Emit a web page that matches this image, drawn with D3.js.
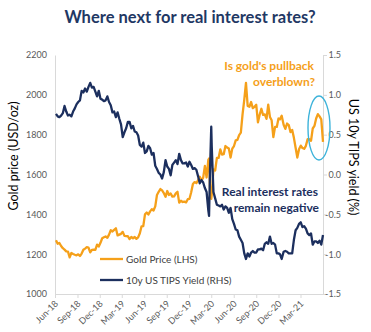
<!DOCTYPE html>
<html><head><meta charset="utf-8">
<script src="https://cdn.jsdelivr.net/npm/d3@7"></script>
<style>
body{margin:0;background:#fff}
svg{display:block}
text{font-family:Lato,"Open Sans",sans-serif}
</style>
</head><body>
<svg id="chart" width="371" height="332"></svg>
<script>
// ---- data ----
const dates = [
"2018-06-22","2018-06-29","2018-07-06","2018-07-13","2018-07-20","2018-07-27","2018-08-03","2018-08-10","2018-08-17","2018-08-24","2018-08-31","2018-09-07","2018-09-14","2018-09-21","2018-09-28","2018-10-05","2018-10-12","2018-10-19","2018-10-26","2018-11-02","2018-11-09","2018-11-16","2018-11-23","2018-11-30","2018-12-07","2018-12-14","2018-12-21","2018-12-28",
"2019-01-04","2019-01-11","2019-01-18","2019-01-25","2019-02-01","2019-02-08","2019-02-15","2019-02-22","2019-03-01","2019-03-08","2019-03-15","2019-03-22","2019-03-29","2019-04-05","2019-04-12","2019-04-19","2019-04-26","2019-05-03","2019-05-10","2019-05-17","2019-05-24","2019-05-31","2019-06-07","2019-06-14","2019-06-21","2019-06-28","2019-07-05","2019-07-12","2019-07-19","2019-07-26","2019-08-02","2019-08-09","2019-08-16","2019-08-23","2019-08-30","2019-09-06","2019-09-13","2019-09-20","2019-09-27","2019-10-04","2019-10-11","2019-10-18","2019-10-25","2019-11-01","2019-11-08","2019-11-15","2019-11-22","2019-11-29","2019-12-06","2019-12-13","2019-12-20","2019-12-27",
"2020-01-03","2020-01-10","2020-01-17","2020-01-24","2020-01-31","2020-02-07","2020-02-14","2020-02-21","2020-02-28","2020-03-06","2020-03-09","2020-03-13","2020-03-18","2020-03-20","2020-03-27","2020-04-03","2020-04-10","2020-04-17","2020-04-24","2020-05-01","2020-05-08","2020-05-15","2020-05-22","2020-05-29","2020-06-05","2020-06-12","2020-06-19","2020-06-26","2020-07-03","2020-07-10","2020-07-17","2020-07-24","2020-07-31","2020-08-07","2020-08-14","2020-08-21","2020-08-28","2020-09-04","2020-09-11","2020-09-18","2020-09-25","2020-10-02","2020-10-09","2020-10-16","2020-10-23","2020-10-30","2020-11-06","2020-11-13","2020-11-20","2020-11-27","2020-12-04","2020-12-11","2020-12-18","2020-12-24","2020-12-31",
"2021-01-08","2021-01-15","2021-01-22","2021-01-29","2021-02-05","2021-02-12","2021-02-19","2021-02-26","2021-03-05","2021-03-12","2021-03-19","2021-03-26","2021-04-02","2021-04-09","2021-04-16","2021-04-23","2021-04-30","2021-05-07","2021-05-14","2021-05-21","2021-05-28","2021-06-04","2021-06-11","2021-06-18"
];
const goldPrice = [
1270,1252,1256,1241,1230,1223,1214,1213,1184,1206,1201,1197,1194,1199,1191,1203,1222,1228,1235,1233,1209,1222,1223,1222,1248,1238,1257,1280,
1285,1289,1282,1298,1320,1314,1322,1330,1294,1298,1302,1312,1292,1291,1290,1276,1286,1280,1286,1277,1284,1305,1340,1341,1400,1409,1399,1415,1426,1419,1440,1497,1513,1527,1520,1507,1488,1517,1497,1505,1489,1490,1505,1513,1459,1468,1462,1464,1460,1476,1478,1511,
1552,1562,1557,1571,1589,1570,1584,1643,1585,1674,1680,1530,1478,1498,1625,1620,1683,1683,1726,1700,1702,1743,1735,1730,1685,1730,1743,1771,1774,1798,1810,1902,1975,2060,1944,1940,1964,1933,1940,1950,1862,1900,1930,1899,1902,1879,1951,1889,1872,1788,1839,1839,1881,1877,1895,
1850,1829,1856,1848,1813,1824,1784,1734,1685,1727,1745,1733,1729,1744,1777,1777,1769,1831,1844,1881,1903,1892,1877,1764
];
const tipsYield = [
0.76,0.73,0.72,0.74,0.77,0.86,0.79,0.74,0.75,0.73,0.79,0.83,0.88,0.91,0.93,1.05,1.03,1.08,1.04,1.10,1.15,1.09,1.10,1.04,0.98,1.05,0.95,0.94,
0.92,0.93,0.98,0.91,0.87,0.78,0.79,0.72,0.78,0.70,0.63,0.47,0.53,0.58,0.66,0.66,0.58,0.61,0.54,0.53,0.49,0.37,0.35,0.40,0.27,0.29,0.36,0.33,0.25,0.27,0.11,0.07,0.02,0.00,-0.05,0.03,0.18,0.10,0.07,-0.01,0.12,0.15,0.18,0.13,0.26,0.18,0.14,0.14,0.15,0.10,0.16,0.12,
0.07,0.08,0.06,-0.02,-0.11,-0.07,-0.10,-0.17,-0.22,-0.45,-0.52,0.05,0.60,0.35,-0.22,-0.30,-0.38,-0.39,-0.40,-0.38,-0.44,-0.40,-0.42,-0.48,-0.42,-0.56,-0.62,-0.69,-0.70,-0.78,-0.82,-0.86,-0.99,-1.06,-0.99,-1.03,-0.98,-0.96,-0.98,-0.98,-0.94,-0.94,-0.93,-0.95,-0.87,-0.85,-0.87,-0.78,-0.87,-0.86,-0.88,-0.99,-0.99,-1.00,-1.06,
-0.97,-0.96,-0.97,-0.99,-0.99,-0.99,-0.82,-0.70,-0.67,-0.62,-0.60,-0.66,-0.65,-0.68,-0.74,-0.76,-0.74,-0.88,-0.84,-0.84,-0.86,-0.83,-0.88,-0.76
];
const xTickLabels = ["Jun-18","Sep-18","Dec-18","Mar-19","Jun-19","Sep-19","Dec-19","Mar-20","Jun-20","Sep-20","Dec-20","Mar-21"];
const goldTicks = [1000,1200,1400,1600,1800,2000,2200];
const yieldTicks = [-1.5,-1.0,-0.5,0.0,0.5,1.0,1.5];
const axisStart = "2018-06-18", axisEnd = "2021-06-18";

// ---- chart ----
const parse = d3.timeParse("%Y-%m-%d");
const GOLD = "#F5A01A", NAVY = "#1C2F5E", AXIS = "#D9D9D9", LBL = "#595959";
const svg = d3.select("#chart");
const m = {left:55, right:323, top:55, bottom:294};

const x = d3.scaleTime().domain([parse(axisStart), parse(axisEnd)]).range([m.left, m.right]);
const yL = d3.scaleLinear().domain([1000,2200]).range([m.bottom, m.top]);
const yR = d3.scaleLinear().domain([-1.5,1.5]).range([m.bottom, m.top]);

const gold = dates.map((d,i)=>({date:parse(d), v:goldPrice[i]}));
const tips = dates.map((d,i)=>({date:parse(d), v:tipsYield[i]}));

// title
svg.append("text").attr("x",190).attr("y",23).attr("text-anchor","middle")
  .attr("font-size",16.5).attr("font-weight",700).attr("fill","#1F3864")
  .text("Where next for real interest rates?");

// left axis
const gL = svg.append("g").attr("transform",`translate(${m.left},0)`)
  .call(d3.axisLeft(yL).tickValues(goldTicks).tickSize(0).tickPadding(8).tickFormat(d3.format("d")));
gL.select(".domain").attr("stroke",AXIS);
gL.selectAll("text").attr("font-size",9).attr("fill",LBL).attr("font-family","Lato");

// right axis
const gR = svg.append("g").attr("transform",`translate(${m.right},0)`)
  .call(d3.axisRight(yR).tickValues(yieldTicks).tickSize(4).tickFormat(d=>d.toFixed(1)));
gR.select(".domain").attr("stroke",AXIS);
gR.selectAll(".tick line").attr("stroke",AXIS);
gR.selectAll("text").attr("font-size",9).attr("fill",LBL).attr("font-family","Lato")
  .attr("text-anchor","end").attr("x",18);

// bottom axis
const tickDates = xTickLabels.map((l,i)=>d3.timeMonth.offset(parse(axisStart),3*i));
const gB = svg.append("g").attr("transform",`translate(0,${m.bottom})`)
  .call(d3.axisBottom(x).tickValues(tickDates).tickSize(4).tickSizeOuter(0).tickFormat((d,i)=>xTickLabels[i]));
gB.select(".domain").attr("stroke",AXIS);
gB.selectAll(".tick line").attr("stroke",AXIS);
gB.selectAll("text").attr("font-size",9).attr("fill",LBL).attr("font-family","Lato")
  .attr("text-anchor","end").attr("x",0).attr("y",0).attr("dy","0.35em")
  .attr("transform","translate(1,8) rotate(-45)");

// axis titles
svg.append("text").attr("transform","translate(18,156) rotate(-90)").attr("text-anchor","middle")
  .attr("font-size",12.5).attr("fill","#000").text("Gold price (USD/oz)");
svg.append("text").attr("transform","translate(349,157) rotate(90)").attr("text-anchor","middle")
  .attr("font-size",12.5).attr("fill","#000").text("US 10y TIPS yield (%)");

// lines
const lineL = d3.line().x(d=>x(d.date)).y(d=>yL(d.v));
const lineR = d3.line().x(d=>x(d.date)).y(d=>yR(d.v));
svg.append("path").datum(gold).attr("d",lineL).attr("fill","none").attr("stroke",GOLD).attr("stroke-width",2.3).attr("stroke-linejoin","round");
svg.append("path").datum(tips).attr("d",lineR).attr("fill","none").attr("stroke",NAVY).attr("stroke-width",2.3).attr("stroke-linejoin","round");

// highlight ellipse
svg.append("ellipse").attr("cx",319).attr("cy",128).attr("rx",11).attr("ry",32)
  .attr("fill","none").attr("stroke","#3DB3DA").attr("stroke-width",1.4);

// annotations
const ann1 = svg.append("text").attr("text-anchor","end").attr("font-size",12).attr("font-weight",700).attr("fill",GOLD);
ann1.append("tspan").attr("x",314).attr("y",70).text("Is gold's pullback");
ann1.append("tspan").attr("x",315).attr("y",86).text("overblown?");
const ann2 = svg.append("text").attr("text-anchor","end").attr("font-size",12).attr("font-weight",700).attr("fill",NAVY);
ann2.append("tspan").attr("x",318).attr("y",196).text("Real interest rates");
ann2.append("tspan").attr("x",319).attr("y",212).text("remain negative");

// legend
const legend = [{label:"Gold Price (LHS)", color:GOLD, y:259},{label:"10y US TIPS Yield (RHS)", color:NAVY, y:280}];
legend.forEach(l=>{
  svg.append("line").attr("x1",100).attr("x2",123).attr("y1",l.y).attr("y2",l.y).attr("stroke",l.color).attr("stroke-width",2.3);
  svg.append("text").attr("x",126).attr("y",l.y+3.5).attr("font-size",10).attr("fill","#404040").text(l.label);
});
</script>
</body></html>
